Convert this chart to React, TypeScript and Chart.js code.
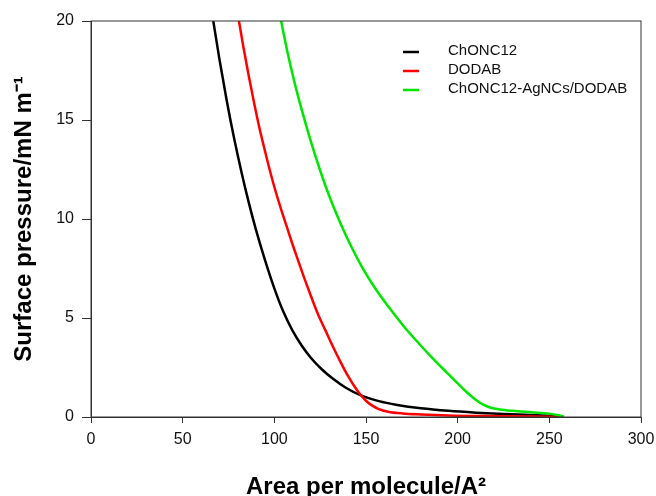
import React, { useEffect, useRef } from "react";
import { Chart, registerables } from "chart.js";

Chart.register(...registerables);

// ---- Data ----
const seriesNames = ["ChONC12", "DODAB", "ChONC12-AgNCs/DODAB"];
const seriesColors = ["#000000", "#ff0000", "#00e600"];

const chonc12Area = [66.7, 70, 74, 78, 82, 86, 90, 95, 100, 105, 110, 115, 120, 126, 132, 139, 147, 157, 167, 180, 195, 210, 225, 240, 255];
const chonc12Pressure = [20, 18.1, 16.0, 14.1, 12.4, 10.85, 9.45, 7.9, 6.5, 5.3, 4.35, 3.6, 2.98, 2.4, 1.93, 1.48, 1.1, 0.8, 0.61, 0.44, 0.31, 0.22, 0.15, 0.1, 0.04];

const dodabArea = [80.7, 83, 86, 89, 92, 95, 98, 101, 104, 107, 110, 113, 116, 120, 124, 128, 132, 136, 140, 144, 147, 150, 153, 157, 162, 170, 180, 195, 215, 240, 257];
const dodabPressure = [20, 18.75, 17.25, 15.85, 14.55, 13.4, 12.3, 11.3, 10.4, 9.55, 8.7, 7.9, 7.1, 6.1, 5.15, 4.35, 3.55, 2.8, 2.1, 1.5, 1.12, 0.82, 0.6, 0.4, 0.27, 0.18, 0.13, 0.08, 0.05, 0.03, 0.0];

const mixArea = [103.7, 107, 111, 115, 120, 125, 130, 136, 142, 148, 155, 162, 170, 178, 186, 194, 200, 205, 210, 214, 218, 223, 230, 240, 250, 255, 258];
const mixPressure = [20, 18.5, 16.9, 15.5, 13.9, 12.45, 11.15, 9.8, 8.6, 7.55, 6.5, 5.6, 4.65, 3.8, 3.0, 2.25, 1.7, 1.25, 0.86, 0.62, 0.47, 0.38, 0.31, 0.24, 0.17, 0.09, 0.02];

const xTicks = [0, 50, 100, 150, 200, 250, 300];
const yTicks = [0, 5, 10, 15, 20];

const xTitle = "Area per molecule/A\u00B2";
const yTitle = "Surface pressure/mN m\u207B\u00B9";

const FONT = "'Liberation Sans', Arial, Helvetica, sans-serif";

function toPoints(xs: number[], ys: number[]) {
  return xs.map((x, i) => ({ x, y: ys[i] }));
}

const framePlugin = {
  id: "frame",
  afterDatasetsDraw(chart: any) {
    const { ctx, chartArea } = chart;
    ctx.save();
    ctx.strokeStyle = "#333333";
    ctx.lineWidth = 1;
    ctx.strokeRect(chartArea.left, chartArea.top, chartArea.right - chartArea.left, chartArea.bottom - chartArea.top);
    ctx.restore();
  },
};

const legendPlugin = {
  id: "insideLegend",
  afterDraw(chart: any) {
    const { ctx, chartArea } = chart;
    const lineX0 = chartArea.right - 238;
    const lineX1 = lineX0 + 16;
    const textX = chartArea.right - 193;
    const y0 = chartArea.top + 31;
    const dy = 19;
    ctx.save();
    chart.data.datasets.forEach((ds: any, i: number) => {
      const y = y0 + i * dy;
      ctx.strokeStyle = ds.borderColor;
      ctx.lineWidth = 2.5;
      ctx.beginPath();
      ctx.moveTo(lineX0, y);
      ctx.lineTo(lineX1, y);
      ctx.stroke();
      ctx.fillStyle = "#111111";
      ctx.font = `15px ${FONT}`;
      ctx.textAlign = "left";
      ctx.textBaseline = "middle";
      ctx.fillText(ds.label, textX, y - 1);
    });
    ctx.restore();
  },
};

export default function App() {
  const canvasRef = useRef<HTMLCanvasElement | null>(null);

  useEffect(() => {
    if (!canvasRef.current) return;
    const areas = [chonc12Area, dodabArea, mixArea];
    const pressures = [chonc12Pressure, dodabPressure, mixPressure];
    const chart = new Chart(canvasRef.current, {
      type: "scatter",
      data: {
        datasets: seriesNames.map((name, i) => ({
          label: name,
          data: toPoints(areas[i], pressures[i]),
          showLine: true,
          borderColor: seriesColors[i],
          backgroundColor: seriesColors[i],
          borderWidth: 2.5,
          pointRadius: 0,
          pointHoverRadius: 0,
          cubicInterpolationMode: "monotone" as const,
          order: seriesNames.length - i,
        })),
      },
      plugins: [framePlugin, legendPlugin],
      options: {
        responsive: false,
        animation: false,
        layout: { padding: { left: 0, right: 15, top: 21, bottom: 0 } },
        plugins: {
          legend: { display: false },
          tooltip: { enabled: false },
        },
        scales: {
          x: {
            type: "linear",
            min: 0,
            max: 300,
            afterBuildTicks: (scale: any) => {
              scale.ticks = xTicks.map((v) => ({ value: v }));
            },
            afterFit: (scale: any) => {
              scale.height = 79;
              scale.paddingLeft = 0;
              scale.paddingRight = 0;
            },
            ticks: {
              color: "#111111",
              font: { family: FONT, size: 16 },
              padding: 7,
              maxRotation: 0,
            },
            grid: {
              drawOnChartArea: false,
              drawTicks: true,
              tickLength: 6,
              color: "#333333",
            },
            border: { display: true, color: "#333333", width: 1 },
            title: {
              display: true,
              text: xTitle,
              color: "#000000",
              font: { family: FONT, size: 24, weight: "bold" },
              padding: { top: 0, bottom: -6 },
            },
          },
          y: {
            type: "linear",
            min: 0,
            max: 20,
            afterBuildTicks: (scale: any) => {
              scale.ticks = yTicks.map((v) => ({ value: v }));
            },
            afterFit: (scale: any) => {
              scale.width = 91;
            },
            ticks: {
              color: "#111111",
              font: { family: FONT, size: 16 },
              padding: 8,
            },
            grid: {
              drawOnChartArea: false,
              drawTicks: true,
              tickLength: 9,
              color: "#333333",
            },
            border: { display: true, color: "#333333", width: 1 },
            title: {
              display: true,
              text: yTitle,
              color: "#000000",
              font: { family: FONT, size: 24, weight: "bold" },
              padding: { top: 10, bottom: 0 },
            },
          },
        },
      },
    } as any);
    return () => {
      chart.destroy();
    };
  }, []);

  return (
    <div style={{ position: "absolute", left: 0, top: 0, width: 656, height: 496, background: "#ffffff" }}>
      <canvas ref={canvasRef} width={656} height={496} style={{ display: "block" }} />
    </div>
  );
}
